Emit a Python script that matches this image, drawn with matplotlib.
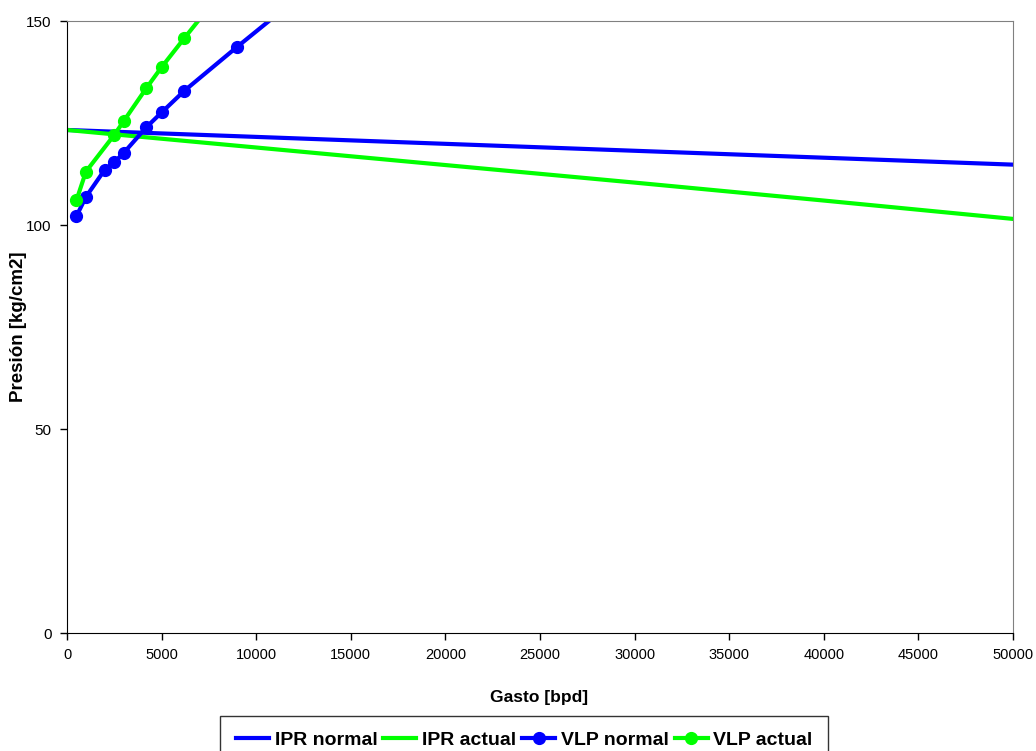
import matplotlib
matplotlib.use("Agg")
import matplotlib.pyplot as plt

# datos
q_ipr = [0, 10000, 20000, 30000, 40000, 50000]
p_ipr_normal = [123.3, 121.6, 119.9, 118.2, 116.5, 114.8]
p_ipr_actual = [123.3, 119.0, 114.7, 110.4, 106.0, 101.5]

q_vlp_normal = [500, 1000, 2000, 2500, 3000, 4200, 5000, 6200, 9000, 12000]
p_vlp_normal = [102.2, 106.9, 113.6, 115.4, 117.7, 124.0, 127.6, 132.9, 143.7, 155.0]

q_vlp_actual = [500, 1000, 2500, 3000, 4200, 5000, 6200, 9000]
p_vlp_actual = [106.1, 113.1, 122.1, 125.5, 133.6, 138.7, 145.8, 162.0]

xticks = list(range(0, 50001, 5000))
yticks = [0, 50, 100, 150]

plt.rcParams['font.family'] = ['Liberation Sans', 'DejaVu Sans']

fig = plt.figure(figsize=(10.36, 7.51), dpi=100)
ax = fig.add_axes([0.0647, 0.1571, 0.9131, 0.8149])

blue = '#0000ff'
green = '#00ff00'
ax.plot(q_ipr, p_ipr_normal, color=blue, lw=3, label='IPR normal')
ax.plot(q_ipr, p_ipr_actual, color=green, lw=3, label='IPR actual')
ax.plot(q_vlp_normal, p_vlp_normal, color=blue, lw=3, marker='o', ms=8.5, label='VLP normal')
ax.plot(q_vlp_actual, p_vlp_actual, color=green, lw=3, marker='o', ms=8.5, label='VLP actual')

ax.set_xlim(0, 50000)
ax.set_ylim(0, 150)
ax.set_xticks(xticks)
ax.set_yticks(yticks)
ax.set_xticklabels([str(t) for t in xticks], fontsize=10.5)
ax.set_yticklabels([str(t) for t in yticks], fontsize=11)
ax.tick_params(direction='out', length=5, width=1, pad=6)

ax.spines['left'].set_color('black')
ax.spines['bottom'].set_color('black')
ax.spines['top'].set_color('#808080')
ax.spines['right'].set_color('#808080')

ax.set_xlabel('Gasto [bpd]', fontsize=12.5, fontweight='bold')
ax.xaxis.set_label_coords(0.499, -0.093)
ax.set_ylabel('Presión [kg/cm2]', fontsize=13.5, fontweight='bold')
ax.yaxis.set_label_coords(-0.042, 0.5)

leg = fig.legend(loc='lower center', bbox_to_anchor=(0.506, -0.031), ncol=4,
                 prop={'weight': 'bold', 'size': 14},
                 handlelength=1.7, handletextpad=0.3, columnspacing=0.3,
                 frameon=True, fancybox=False, borderpad=0.8)
leg.get_frame().set_edgecolor('black')
leg.get_frame().set_linewidth(1)

fig.savefig('out.png', dpi=100)
